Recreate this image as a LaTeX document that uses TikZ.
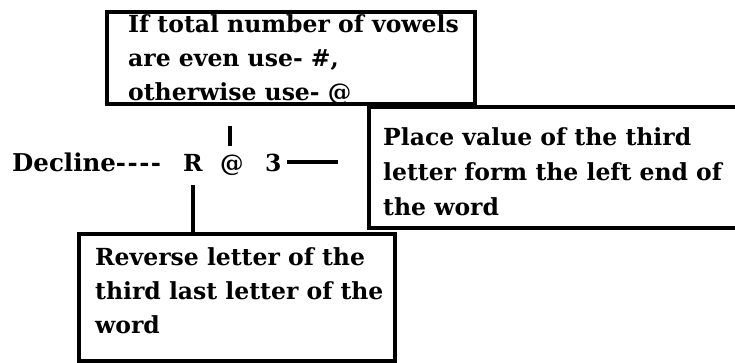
\documentclass[tikz,border=0pt]{standalone}
\usepackage{fontspec}
\setmainfont{DejaVu Serif}
\newcommand{\hy}{\mbox{-}\kern1.5pt}
\begin{document}
\begin{tikzpicture}[x=1pt,y=-1pt,
  box/.style={draw=black,line width=3.5pt,fill=white,inner sep=0pt,anchor=north west},
  lbl/.style={inner sep=0pt,anchor=base west,font=\bfseries\fontsize{23.5}{34}\selectfont},
  conn/.style={draw=black,line width=3.5pt}]
\useasboundingbox (0,0) rectangle (735,362);
% boxes
\node[box,minimum width=378pt,minimum height=121pt] (rbox) at (367,105) {};
\node[box,minimum width=368pt,minimum height=92pt] (tbox) at (105,10) {};
\node[box,minimum width=316pt,minimum height=127pt] (bbox) at (77,232) {};
% box texts
\node[lbl] (ttext) at (128,32) {\parbox[t]{340pt}{\bfseries\fontsize{23.5}{34}\selectfont If total number of vowels\\are even use- \#,\\otherwise use- @}};
\node[lbl] (rtext) at (383,145) {\parbox[t]{350pt}{\bfseries\fontsize{23.5}{35}\selectfont Place value of the third\\letter form the left end of\\the word}};
\node[lbl] (btext) at (95,265) {\parbox[t]{300pt}{\bfseries\fontsize{23.5}{34}\selectfont Reverse letter of the\\third last letter of the\\word}};
% middle code
\node[lbl,font=\bfseries\fontsize{24.5}{34}\selectfont] (decl) at (12,171) {Decline\hy\hy\hy\hy};
\node[lbl] (rr) at (183,171) {R};
\node[lbl] (at) at (220,171) {@};
\node[lbl] (three) at (265,171) {3};
% connectors
\coordinate (ta) at (230,126);
\coordinate (tb) at (230,146);
\draw[conn] (ta) -- (tb);
\coordinate (e3) at (338,162);
\draw[conn] ([xshift=5pt]three.east |- e3) -- (e3);
\draw[conn] ([yshift=-14pt]rr.south) -- (rr.south |- bbox.north);
\end{tikzpicture}
\end{document}
